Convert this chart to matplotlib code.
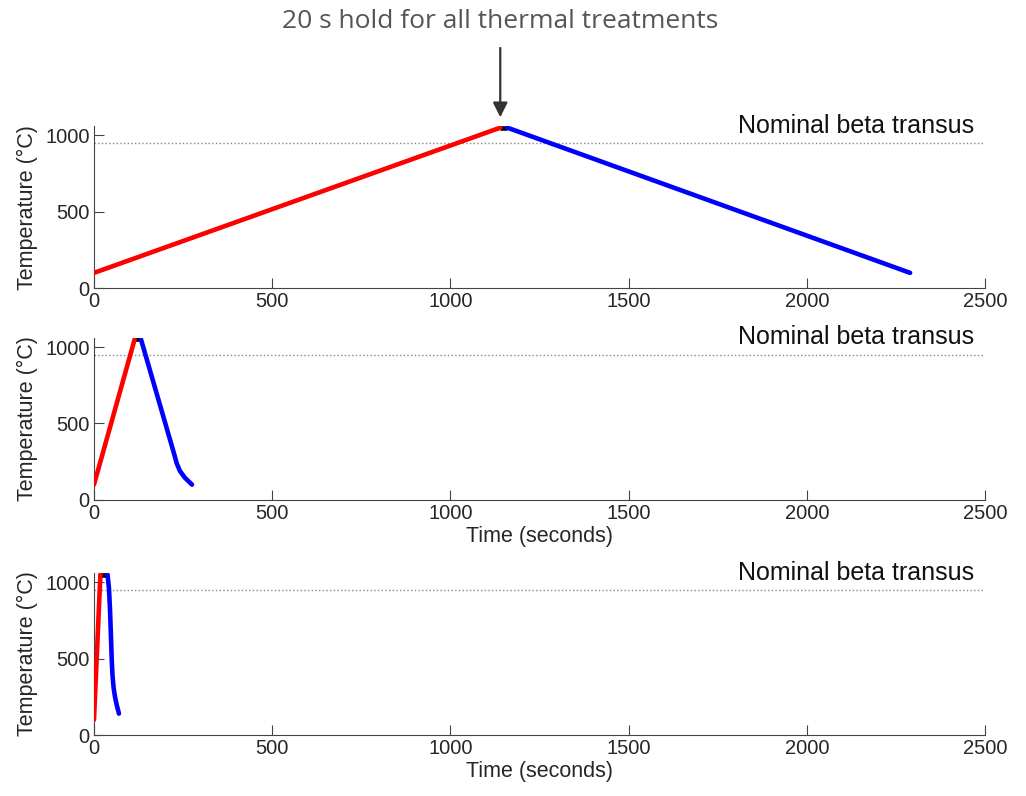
import matplotlib
matplotlib.use("Agg")
import matplotlib.pyplot as plt

# slow heating (50 C/min)
heat_t1 = [0, 1140]
heat_T1 = [100, 1050]
hold_t1 = [1140, 1160]
cool_t1 = [1160, 2290]
cool_T1 = [1050, 100]

# medium heating
heat_t2 = [0, 114]
heat_T2 = [100, 1050]
hold_t2 = [114, 132]
cool_t2 = [132, 225, 232, 241, 255, 275]
cool_T2 = [1050, 300, 240, 190, 145, 100]

# fast heating
heat_t3 = [0, 18]
heat_T3 = [100, 1050]
hold_t3 = [18, 38]
cool_t3 = [38, 42, 45, 48, 50, 52, 55, 59, 64, 70]
cool_T3 = [1050, 960, 820, 620, 480, 390, 310, 250, 195, 140]

beta_transus = 950
hold_T = 1050

x_ticks = [0, 500, 1000, 1500, 2000, 2500]
y_ticks = [0, 500, 1000]

plt.rcParams['font.family'] = ['Liberation Sans', 'DejaVu Sans']

fig = plt.figure(figsize=(10.26, 7.96), dpi=100)
L, W, H = 0.0916, 0.8684, 0.2035
bottoms = [0.638, 0.372, 0.0766]

runs = [
    (heat_t1, heat_T1, hold_t1, cool_t1, cool_T1, False),
    (heat_t2, heat_T2, hold_t2, cool_t2, cool_T2, True),
    (heat_t3, heat_T3, hold_t3, cool_t3, cool_T3, True),
]

axes = []
for b, (ht, hT, hold, ct, cT, xlab) in zip(bottoms, runs):
    ax = fig.add_axes([L, b, W, H])
    ax.plot([0, 2500], [beta_transus, beta_transus], ':', color='#888888', lw=1.0)
    # hold drawn underneath so the round caps of the ramps cover most of it
    ax.plot(hold, [hold_T, hold_T], color='black', lw=3.3, solid_capstyle='butt', zorder=2)
    ax.plot(ht, hT, color='#ff0000', lw=3.3, solid_capstyle='round', zorder=3)
    ax.plot(ct, cT, color='#0000ff', lw=3.3, solid_capstyle='round',
            solid_joinstyle='round', zorder=3)
    ax.set_xlim(0, 2500)
    ax.set_ylim(0, 1060)
    ax.set_xticks(x_ticks)
    ax.set_yticks(y_ticks)
    for s in ['top', 'right']:
        ax.spines[s].set_visible(False)
    for s in ['left', 'bottom']:
        ax.spines[s].set_color('#444444')
    ax.tick_params(direction='in', length=7, color='#444444', labelsize=14.5,
                   labelcolor='#262626', pad=3)
    ax.set_ylabel('Temperature (°C)', fontsize=15.5, color='#262626', labelpad=5)
    if xlab:
        ax.set_xlabel('Time (seconds)', fontsize=15.5, color='#262626', labelpad=2)
    ax.text(2470, 985, 'Nominal beta transus', ha='right', va='bottom',
            fontsize=18, color='#111111', clip_on=False)
    axes.append(ax)

# arrow pointing at the hold of the slow treatment
axes[0].annotate('', xy=(1140, 1100), xytext=(1140, 1590),
                 arrowprops=dict(arrowstyle='-|>', color='#333333', lw=1.6,
                                 mutation_scale=22),
                 annotation_clip=False)
fig.text(0.487, 1 - 22 / 796, '20 s hold for all thermal treatments',
         ha='center', va='center', fontsize=19, color='#555555',
         family=['Open Sans', 'DejaVu Sans'])

fig.savefig('out.png', dpi=100)
